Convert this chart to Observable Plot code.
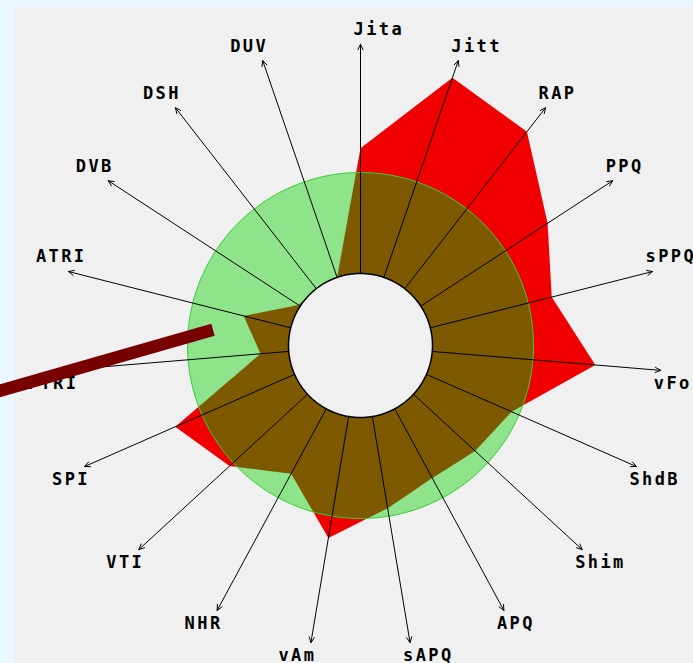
<!DOCTYPE html>
<html><head><meta charset="utf-8">
<script src="https://cdn.jsdelivr.net/npm/d3@7"></script>
<script src="https://cdn.jsdelivr.net/npm/@observablehq/plot@0.6"></script>
<style>
html,body{margin:0;padding:0;background:#eaf7ff;width:693px;height:663px;overflow:hidden}
#panel{position:absolute;left:14px;top:7px;right:0;bottom:0;background:#f0f0f0}
#chart{position:absolute;left:0;top:0}
#chart text{letter-spacing:2.4px}
</style></head><body><div id="panel"></div><div id="chart"></div>
<script>
// Axis names (clockwise from top)
const axes = ["Jita","Jitt","RAP","PPQ","sPPQ","vFo","ShdB","Shim","APQ","sAPQ","vAm","NHR","VTI","SPI","FTRI","ATRI","DVB","DSH","DUV"];
// Values normalised to the reference (green circle = 1, inner hole = 0)
const values = [1.24,2.09,1.97,1.50,1.24,1.62,0.92,0.83,0.78,0.92,1.22,0.73,1.05,1.29,0.28,0.48,0.02,0.00,0.00];
const reference = 1.0;     // green reference ring
const axisMax = 2.27;      // arrow tips
// annotation pointer (chart units)
const pointer = [{x:-380,y:-50.7},{x:-147.5,y:15.7}];

const N = axes.length;
const rad = d3.scaleLinear().domain([0,1]).range([72,173]);
const ang = i => i*2*Math.PI/N;
const pt = (r,a) => ({x: r*Math.sin(a), y: r*Math.cos(a)});

const redPts = values.map((v,i)=>pt(rad(v),ang(i)));
const R = rad(reference);
const brownPts = [];
for (let i=0;i<N;i++){
  const p=redPts[i], q=redPts[(i+1)%N];
  for (let k=0;k<60;k++){
    const t=k/60, x=p.x+(q.x-p.x)*t, y=p.y+(q.y-p.y)*t, r=Math.hypot(x,y);
    const s = r>R ? R/r : 1;
    brownPts.push({x:x*s,y:y*s});
  }
}
const circle = r => d3.range(0,360,1).map(d=>pt(r,d*Math.PI/180));
const axisData = axes.map((name,i)=>{
  const a=ang(i), p0=pt(rad(0),a), p1=pt(rad(axisMax),a);
  const right = Math.sin(a) >= -1e-9;
  const top = Math.cos(a) > 0;
  return {name, x1:p0.x, y1:p0.y, x2:p1.x, y2:p1.y,
    lx: p1.x + (right ? -7 : -32.5), ly: p1.y + (top ? 14.5 : -13)};
});

const chart = Plot.plot({
  width:693, height:663, margin:0,
  x:{domain:[-360,333], axis:null},
  y:{domain:[-318,345], axis:null},
  style:{background:"transparent", overflow:"visible"},
  marks:[
    Plot.line(redPts,{x:"x",y:"y",curve:"linear-closed",fill:"#f00000",stroke:"none"}),
    Plot.line(circle(R),{x:"x",y:"y",curve:"linear-closed",fill:"#8fe38a",stroke:"none"}),
    Plot.line(brownPts,{x:"x",y:"y",curve:"linear-closed",fill:"#7d5a02",stroke:"none"}),
    Plot.line(circle(R),{x:"x",y:"y",curve:"linear-closed",fill:"none",stroke:"#33cc33",strokeWidth:1}),
    Plot.line(circle(rad(0)),{x:"x",y:"y",curve:"linear-closed",fill:"#f0f0f0",stroke:"#000",strokeWidth:1.5}),
    Plot.arrow(axisData,{x1:"x1",y1:"y1",x2:"x2",y2:"y2",stroke:"#000",strokeWidth:1,headLength:9,headAngle:50}),
    Plot.text(axisData,{x:"lx",y:"ly",text:"name",textAnchor:"start",fontFamily:"DejaVu Sans Mono",fontWeight:"bold",fontSize:17,fill:"#000"}),
    Plot.line(pointer,{x:"x",y:"y",stroke:"#780000",strokeWidth:12.5,strokeLinecap:"butt"})
  ]
});
document.getElementById("chart").appendChild(chart);
</script></body></html>
